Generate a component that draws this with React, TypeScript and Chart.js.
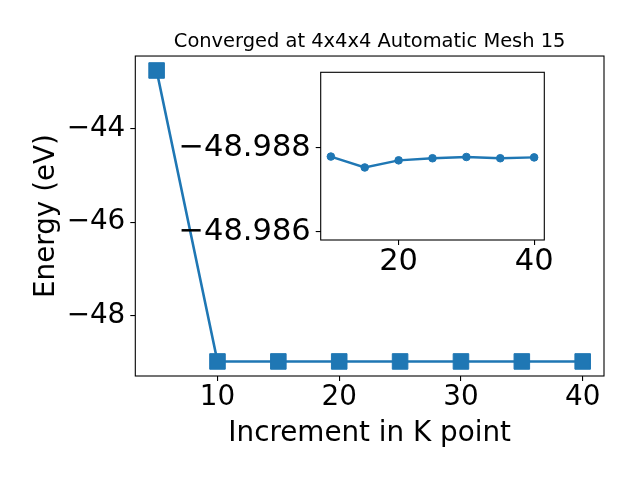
import React, { useEffect, useRef } from "react";
import { Chart, registerables } from "chart.js";

Chart.register(...registerables);

// ---- data ----
const kPoints = [5, 10, 15, 20, 25, 30, 35, 40];
const insetKPoints = [10, 15, 20, 25, 30, 35, 40];
const insetEnergies = [-48.98779, -48.98753, -48.9877, -48.98775, -48.98778, -48.98775, -48.98777];
const firstEnergy = -42.75;
const mainEnergies = [firstEnergy, ...insetEnergies];

const mainXTicks = [10, 20, 30, 40];
const mainYTicks = [-48, -46, -44];
const insetXTicks = [20, 40];
const insetYTicks = [-48.988, -48.986];

const titleText = "Converged at 4x4x4 Automatic Mesh 15";
const xLabel = "Increment in K point";
const yLabel = "Energy (eV)";

const BLUE = "#1f77b4";
const FONT = "'DejaVu Sans', sans-serif";

const fmt = (v: number, d: number) => {
  const s = v.toFixed(d);
  return s.replace("-", "\u2212");
};

const framePlugin = {
  id: "frame",
  beforeDraw(chart: any, _args: any, opts: any) {
    if (opts && opts.fill) {
      const { left, top, right, bottom } = chart.chartArea;
      const ctx = chart.ctx;
      ctx.save();
      ctx.fillStyle = "#ffffff";
      ctx.fillRect(left, top, right - left, bottom - top);
      ctx.restore();
    }
  },
  afterDraw(chart: any) {
    const { left, top, right, bottom } = chart.chartArea;
    const ctx = chart.ctx;
    ctx.save();
    ctx.strokeStyle = "#000000";
    ctx.lineWidth = 1.1;
    ctx.strokeRect(left, top, right - left, bottom - top);
    ctx.restore();
  },
};

export default function App() {
  const mainRef = useRef<HTMLCanvasElement>(null);
  const insetRef = useRef<HTMLCanvasElement>(null);

  useEffect(() => {
    const mainChart = new Chart(mainRef.current as HTMLCanvasElement, {
      type: "line",
      data: {
        datasets: [
          {
            data: kPoints.map((k, i) => ({ x: k, y: mainEnergies[i] })),
            borderColor: BLUE,
            backgroundColor: BLUE,
            borderWidth: 2.6,
            pointStyle: "rect",
            pointRadius: 11,
            pointBorderWidth: 1,
            pointBorderColor: BLUE,
            pointBackgroundColor: BLUE,
            tension: 0,
            fill: false,
          },
        ],
      },
      options: {
        responsive: false,
        animation: false,
        events: [],
        layout: { padding: { left: 0, right: 36, top: 0, bottom: 0 } },
        plugins: {
          legend: { display: false },
          tooltip: { enabled: false },
          title: {
            display: true,
            text: titleText,
            fullSize: false,
            color: "#000",
            font: { family: FONT, size: 19.44, weight: "normal", lineHeight: 1.2 },
            padding: { top: 30.2, bottom: 2.5 },
          },
          frame: {},
        } as any,
        scales: {
          x: {
            type: "linear",
            min: 3.25,
            max: 41.75,
            afterBuildTicks: (axis: any) => {
              axis.ticks = mainXTicks.map((v) => ({ value: v }));
            },
            afterFit: (axis: any) => {
              axis.height = 104;
            },
            border: { display: false },
            grid: { drawOnChartArea: false, drawTicks: true, tickLength: 5, color: "#000", lineWidth: 1.1 },
            ticks: {
              color: "#000",
              padding: 2.4,
              maxRotation: 0,
              font: { family: FONT, size: 27.8, lineHeight: 1 },
              callback: (v: any) => fmt(Number(v), 0),
            },
            title: {
              display: true,
              text: xLabel,
              color: "#000",
              font: { family: FONT, size: 27.8, lineHeight: 1.2 },
              padding: { top: 29.6, bottom: 29.6 },
            },
          },
          y: {
            type: "linear",
            min: -49.3,
            max: -42.44,
            afterBuildTicks: (axis: any) => {
              axis.ticks = mainYTicks.map((v) => ({ value: v }));
            },
            afterFit: (axis: any) => {
              axis.width = 135.3;
            },
            border: { display: false },
            grid: { drawOnChartArea: false, drawTicks: true, tickLength: 5, color: "#000", lineWidth: 1.1 },
            ticks: {
              color: "#000",
              padding: 5,
              font: { family: FONT, size: 27.8, lineHeight: 1 },
              callback: (v: any) => fmt(Number(v), 0),
            },
            title: {
              display: true,
              text: yLabel,
              color: "#000",
              font: { family: FONT, size: 27.8, lineHeight: 1.2 },
              padding: { top: 30.2, bottom: 30.2 },
            },
          },
        },
      } as any,
      plugins: [framePlugin],
    });

    const insetChart = new Chart(insetRef.current as HTMLCanvasElement, {
      type: "line",
      data: {
        datasets: [
          {
            data: insetKPoints.map((k, i) => ({ x: k, y: insetEnergies[i] })),
            borderColor: BLUE,
            backgroundColor: BLUE,
            borderWidth: 2.4,
            pointStyle: "circle",
            pointRadius: 3.8,
            pointBorderWidth: 1,
            pointBorderColor: BLUE,
            pointBackgroundColor: BLUE,
            tension: 0,
            fill: false,
          },
        ],
      },
      options: {
        responsive: false,
        animation: false,
        events: [],
        layout: { padding: { left: 0, right: 95.7, top: 72.3, bottom: 0 } },
        plugins: {
          legend: { display: false },
          tooltip: { enabled: false },
          title: { display: false },
          frame: { fill: true },
        } as any,
        scales: {
          x: {
            type: "linear",
            min: 8.5,
            max: 41.5,
            afterBuildTicks: (axis: any) => {
              axis.ticks = insetXTicks.map((v) => ({ value: v }));
            },
            afterFit: (axis: any) => {
              axis.height = 240;
            },
            border: { display: false },
            grid: { drawOnChartArea: false, drawTicks: true, tickLength: 5, color: "#000", lineWidth: 1.1 },
            ticks: {
              color: "#000",
              padding: 2.2,
              maxRotation: 0,
              font: { family: FONT, size: 30.5, lineHeight: 1 },
              callback: (v: any) => fmt(Number(v), 0),
            },
          },
          y: {
            type: "linear",
            reverse: true,
            min: -48.9898,
            max: -48.9858,
            afterBuildTicks: (axis: any) => {
              axis.ticks = insetYTicks.map((v) => ({ value: v }));
            },
            afterFit: (axis: any) => {
              axis.width = 320.7;
            },
            border: { display: false },
            grid: { drawOnChartArea: false, drawTicks: true, tickLength: 5, color: "#000", lineWidth: 1.1 },
            ticks: {
              color: "#000",
              padding: 5,
              font: { family: FONT, size: 30.5, lineHeight: 1 },
              callback: (v: any) => fmt(Number(v), 3),
            },
          },
        },
      } as any,
      plugins: [framePlugin],
    });

    return () => {
      mainChart.destroy();
      insetChart.destroy();
    };
  }, []);

  return (
    <div style={{ position: "fixed", left: 0, top: 0, width: 640, height: 480, background: "#fff" }}>
      <canvas ref={mainRef} width={640} height={480} style={{ position: "absolute", left: 0, top: 0, width: 640, height: 480 }} />
      <canvas ref={insetRef} width={640} height={480} style={{ position: "absolute", left: 0, top: 0, width: 640, height: 480 }} />
    </div>
  );
}
